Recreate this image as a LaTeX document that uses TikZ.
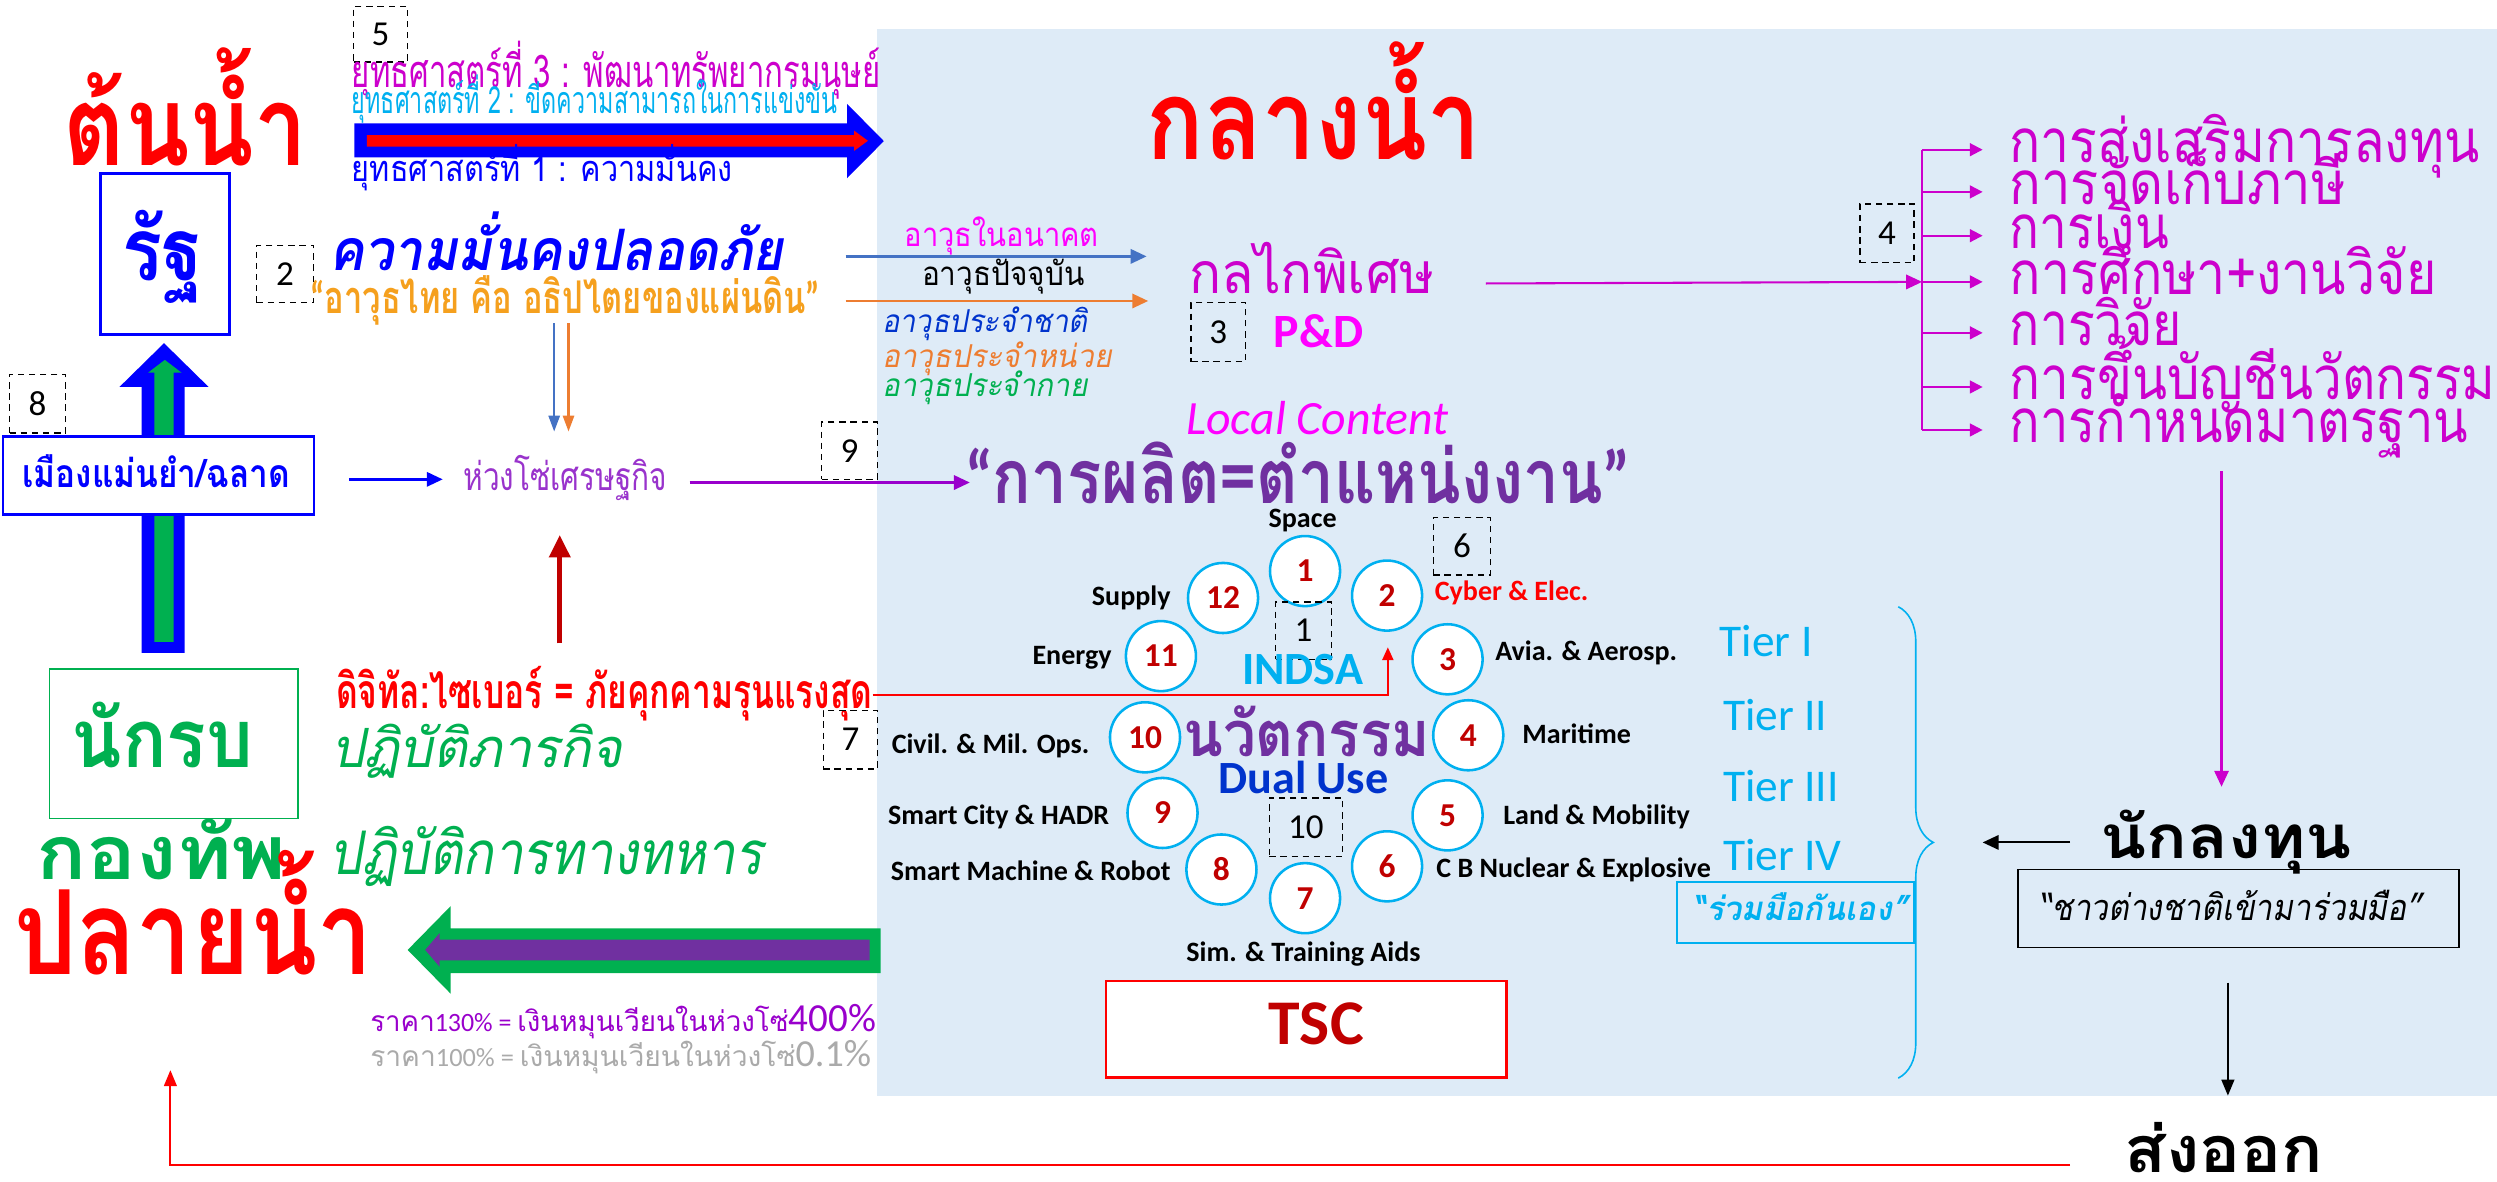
\documentclass[tikz,border=0pt]{standalone}
\usepackage{fontspec}
\usepackage{graphicx}
\usetikzlibrary{arrows.meta,decorations.pathreplacing}
\newfontfamily\thr[Script=Thai]{Loma}
\newfontfamily\thi[Script=Thai,FakeSlant=0.2]{Loma}
\newfontfamily\cl{Carlito}
\newcommand\thratio{0.53}
\newcommand\fs[1]{\fontsize{#1}{#1}\selectfont}
\newcommand\bh[1]{\fontsize{\fpeval{#1/\thratio}}{\fpeval{#1/\thratio}}\selectfont}
\newcommand\fw[2]{\resizebox{#1pt}{\height}{#2}}
\definecolor{bgc}{RGB}{222,235,247}
\definecolor{mag}{RGB}{204,0,204}
\definecolor{pinkx}{RGB}{255,0,255}
\definecolor{cyanx}{RGB}{0,176,240}
\definecolor{greenx}{RGB}{0,176,80}
\definecolor{purplex}{RGB}{112,48,160}
\definecolor{violetx}{RGB}{153,0,204}
\definecolor{violetT}{RGB}{153,51,204}
\definecolor{darkredx}{RGB}{192,0,0}
\definecolor{orangeL}{RGB}{237,125,49}
\definecolor{orangeT}{RGB}{245,160,30}
\definecolor{blueL}{RGB}{68,114,196}
\definecolor{blueT}{RGB}{0,51,204}
\definecolor{grayx}{RGB}{170,170,170}
\begin{document}
\begin{tikzpicture}[x=1pt,y=-1pt,
  tx/.style={inner sep=0pt,outer sep=0pt,anchor=base west},
  dbox/.style={draw=black,dash pattern=on 4pt off 3pt,line width=0.9pt,inner sep=0pt,font=\cl\fs{22}},
  circ/.style={circle,draw=cyanx,line width=1.6pt,fill=white,minimum size=44pt,inner sep=0pt,font=\cl\bfseries\fs{21},text=darkredx},
  lab/.style={inner sep=0pt,outer sep=0pt,font=\cl\bfseries\fs{17.6}},
  tier/.style={inner sep=0pt,outer sep=0pt,anchor=base west,font=\cl\fs{28.5},text=cyanx},
  arr/.style={-{Triangle[length=10pt,width=9pt]}},
  sarr/.style={-{Triangle[length=8pt,width=7pt]}}
]
\useasboundingbox (0,0) rectangle (1568,742);
\fill[white] (0,0) rectangle (1568,742);
\fill[bgc] (551,18) rectangle (1568,688);

% ---------- top left ----------
\node[tx,text=red] (tonnam) at (40,104) {\thr\bfseries\bh{37}\fw{153}{ต้นน้ำ}};
\node[draw=blue,line width=1.5pt,fill=white,minimum width=81pt,minimum height=101pt,inner sep=0pt] (ratbox) at (103.5,159.5) {};
\node[tx,text=blue] (rat) at (77,176) {\thr\bfseries\bh{29}\fw{51}{รัฐ}};

\node[dbox,minimum width=34pt,minimum height=35pt] (b5) at (239,21.5) {5};
\node[tx,text=mag] (s3) at (221,55) {\thr\bh{15}\fw{332}{ยุทธศาสตร์ที่ 3 : พัฒนาทรัพยากรมนุษย์}};
\node[tx,text=cyanx] (s2) at (221,71) {\thr\bh{12.5}\fw{305}{ยุทธศาสตร์ที่ 2 : ขีดความสามารถในการแข่งขัน}};
\fill[blue] (222.5,77.4) -- (532,77.4) -- (532,65.3) -- (555,88.6) -- (532,111.8) -- (532,98.8) -- (222.5,98.8) -- cycle;
\fill[red] (230.3,84.8) -- (536.3,84.8) -- (536.3,82) -- (545,88.4) -- (536.3,94.8) -- (536.3,92.1) -- (230.3,92.1) -- cycle;
\node[tx,text=blue] (s1) at (221,114) {\thr\bh{12}\fw{239}{ยุทธศาสตร์ที่ 1 : ความมั่นคง}};

\node[tx,text=red] (klang) at (720,100) {\thr\bfseries\bh{37}\fw{210}{กลางน้ำ}};

\node[dbox,minimum width=36pt,minimum height=36pt] (b2) at (179,172) {2};
\node[tx,text=blue] (secure) at (207,170) {\thi\bfseries\bh{19}\fw{285}{ความมั่นคงปลอดภัย}};
\node[tx,text=orangeT] (thaiw) at (195,197) {\thr\bfseries\bh{15}\fw{320}{{\cl “}อาวุธไทย คือ อธิปไตยของแผ่นดิน{\cl ”}}};

% weapons arrows
\coordinate (wb0) at (531,161); \coordinate (wb1) at (720,161);
\coordinate (wo0) at (531,189); \coordinate (wo1) at (721,189);
\draw[blueL,line width=1.5pt,arr] (wb0) -- (wb1);
\draw[orangeL,line width=1.5pt,arr] (wo0) -- (wo1);
\coordinate (vb0) at (348,203); \coordinate (vb1) at (348,271);
\coordinate (vo0) at (357,203); \coordinate (vo1) at (357,271);
\draw[blueL,line width=1.5pt,-{Triangle[length=10pt,width=7pt]}] (vb0) -- (vb1);
\draw[orangeL,line width=1.5pt,-{Triangle[length=10pt,width=7pt]}] (vo0) -- (vo1);

\node[tx,text=pinkx] (wfut) at (568,155) {\thr\bh{11}\fw{122}{อาวุธในอนาคต}};
\node[tx,text=black] (wnow) at (579,179) {\thr\bh{11}\fw{102}{อาวุธปัจจุบัน}};
\node[tx,text=blueT] (wnat) at (554,209) {\thi\bh{10.5}\fw{129}{อาวุธประจำชาติ}};
\node[tx,text=orangeL] (wunit) at (554,231) {\thi\bh{10.5}\fw{144}{อาวุธประจำหน่วย}};
\node[tx,text=greenx] (wbody) at (554,249) {\thi\bh{10.5}\fw{129}{อาวุธประจำกาย}};

\node[tx,text=mag] (kalkai) at (747,184) {\thr\bh{19}\fw{154}{กลไกพิเศษ}};
\node[dbox,minimum width=34pt,minimum height=37pt] (b3) at (765,208.5) {3};
\node[tx,text=pinkx,font=\cl\bfseries\fs{30}] (pd) at (800,218) {P\&D};

% right list
\coordinate (kk0) at (933,178);
\coordinate (bartop) at (1207,94); \coordinate (barbot) at (1207,270);
\draw[mag,line width=1pt] (bartop) -- (barbot);
\draw[mag,line width=1.3pt,arr] (kk0) -- (1207,177);
\foreach \yy/\nm/\ww/\tt in {94/r1/295/การส่งเสริมการลงทุน,120.5/r2/211/การจัดเก็บภาษี,148/r3/100/การเงิน,177/r4/268/การศึกษา+งานวิจัย,209/r5/108/การวิจัย,243/r6/305/การขึ้นบัญชีนวัตกรรม,270/r7/288/การกำหนดมาตรฐาน}{
  \coordinate (\nm a) at (1207,\yy);
  \coordinate (\nm b) at (1245,\yy);
  \draw[mag,line width=1.3pt,-{Triangle[length=8pt,width=8pt]}] (\nm a) -- (\nm b);
  \node[tx,text=mag] (\nm) at (1262,\yy+8) {\thr\bh{20}\fw{\ww}{\tt}};
}
\node[dbox,minimum width=34pt,minimum height=37pt] (b4) at (1185,146.5) {4};
\coordinate (md0) at (1395,296); \coordinate (md1) at (1395,494);
\draw[mag,line width=1.3pt,arr] (md0) -- (md1);

\node[tx,text=pinkx,font=\cl\itshape\fs{30}] (local) at (745,273) {Local Content};

% ---------- left middle ----------
\node[dbox,minimum width=35pt,minimum height=37pt] (b8) at (23.5,253.5) {8};
\fill[blue] (89,410) -- (89,243) -- (75,243) -- (103,215.5) -- (131,243) -- (116,243) -- (116,410) -- cycle;
\fill[greenx] (97,403) -- (97,234) -- (93,234) -- (103.5,226) -- (114,234) -- (109,234) -- (109,403) -- cycle;
\node[draw=blue,line width=1.5pt,fill=white,minimum width=195pt,minimum height=49pt,inner sep=0pt] (muangbox) at (99.5,298.5) {};
\node[tx,text=blue] (muang) at (14,306) {\thr\bfseries\bh{13}\fw{168}{เมืองแม่นยำ/ฉลาด}};
\coordinate (mb0) at (219,301); \coordinate (mb1) at (278,301);
\draw[blue,line width=1.5pt,arr] (mb0) -- (mb1);
\node[tx,text=violetT] (huang) at (291,308) {\thr\bh{13}\fw{128}{ห่วงโซ่เศรษฐกิจ}};
\coordinate (hp0) at (433,303); \coordinate (hp1) at (609,303);
\draw[violetx,line width=1.5pt,arr] (hp0) -- (hp1);
\node[dbox,minimum width=35pt,minimum height=36pt] (b9) at (533.5,283) {9};
\node[tx,text=purplex] (prod) at (606,316) {\thr\bfseries\bh{25}\fw{418}{{\cl “}การผลิต=ตำแหน่งงาน{\cl ”}}};

\coordinate (dr0) at (351.5,404); \coordinate (dr1) at (351.5,336);
\draw[darkredx,line width=3pt,-{Triangle[length=14pt,width=13pt]}] (dr0) -- (dr1);

\node[tx,text=red] (digi) at (211,445) {\thr\bfseries\bh{16}\fw{337}{ดิจิทัล:ไซเบอร์ = ภัยคุกคามรุนแรงสุด}};
\coordinate (rl0) at (548,436.5); \coordinate (rl1) at (871.5,436.5); \coordinate (rl2) at (871.5,406.5);
\draw[red,line width=1pt,sarr] (rl0) -- (rl1) -- (rl2);

% ---------- bottom left ----------
\node[draw=greenx,line width=1pt,minimum width=156pt,minimum height=94pt,inner sep=0pt] (nakbox) at (109,467) {};
\node[tx,text=greenx] (nak) at (45,482) {\thr\bfseries\bh{27}\fw{114}{นักรบ}};
\node[tx,text=greenx] (mission) at (208,482) {\thi\bh{18}\fw{183}{ปฏิบัติภารกิจ}};
\node[tx,text=greenx] (army) at (23,552) {\thr\bfseries\bh{25}\fw{157}{กองทัพ}};
\node[tx,text=greenx] (milop) at (207,549) {\thi\bh{20}\fw{272}{ปฏิบัติการทางทหาร}};
\node[tx,text=red] (plai) at (9,612) {\thr\bfseries\bh{39}\fw{225}{ปลายน้ำ}};

\fill[greenx] (553,583) -- (283,583) -- (283,569) -- (256,596.5) -- (283,624) -- (283,611) -- (553,611) -- cycle;
\fill[purplex] (546,590) -- (276,590) -- (276,586) -- (267,596.5) -- (276,607) -- (276,603) -- (546,603) -- cycle;

\node[tx,text=violetx] (price1) at (232.5,648) {\fw{317.5}{\thr\bh{9.4}ราคา{\cl\fs{16.6}130\% = }เงินหมุนเวียนในห่วงโซ่{\cl\fs{25}400\%}}};
\node[tx,text=grayx] (price2) at (232.5,669.4) {\fw{314.5}{\thr\bh{9.4}ราคา{\cl\fs{16.6}100\% = }เงินหมุนเวียนในห่วงโซ่{\cl\fs{24}0.1\%}}};

\coordinate (ex0) at (1300,731.5); \coordinate (ex1) at (107,731.5); \coordinate (ex2) at (107,672);
\draw[red,line width=1.2pt,-{Triangle[length=10pt,width=8pt]}] (ex0) -- (ex1) -- (ex2);

% ---------- circle cluster ----------
\node[lab,anchor=base] (lspace) at (818,331) {Space};
\node[circ] (c1) at (819.5,358.6) {1};
\node[circ] (c2) at (871,374) {2};
\node[circ] (c3) at (909,414) {3};
\node[circ] (c4) at (922,461.7) {4};
\node[circ] (c5) at (909,512) {5};
\node[circ] (c6) at (871,544) {6};
\node[circ] (c7) at (819.5,564) {7};
\node[circ] (c8) at (767,546) {8};
\node[circ] (c9) at (730,510.5) {9};
\node[circ] (c10) at (719,463) {10};
\node[circ] (c11) at (729,412) {11};
\node[circ] (c12) at (768,375.5) {12};
\node[lab,anchor=base east] (lsup) at (735,380) {Supply};
\node[lab,anchor=base west,text=red] (lcyb) at (901,377) {Cyber \& Elec.};
\node[lab,anchor=base east] (lene) at (698,417) {Energy};
\node[lab,anchor=base west] (lavi) at (939,415) {Avia. \& Aerosp.};
\node[lab,anchor=base east] (lciv) at (684,473) {Civil. \& Mil. Ops.};
\node[lab,anchor=base west] (lmar) at (956,467) {Maritime};
\node[lab,anchor=base east] (lsmc) at (696.5,518) {Smart City \& HADR};
\node[lab,anchor=base west] (llan) at (944,518) {Land \& Mobility};
\node[lab,anchor=base east] (lsmm) at (735,553) {Smart Machine \& Robot};
\node[lab,anchor=base west] (lcbn) at (902,551) {C B Nuclear \& Explosive};
\node[lab,anchor=base] (lsim) at (818.5,604) {Sim. \& Training Aids};

\node[dbox,minimum width=36pt,minimum height=36pt] (b6) at (918,343) {6};
\node[dbox,minimum width=35pt,minimum height=36pt] (b1) at (818.5,396) {1};
\node[dbox,minimum width=46pt,minimum height=37pt] (b10) at (820,519.5) {10};
\node[dbox,minimum width=34pt,minimum height=37pt] (b7) at (534,464.5) {7};

\node[inner sep=0pt,anchor=base,font=\cl\bfseries\fs{29},text=cyanx] (indsa) at (818,430) {INDSA};
\node[tx,text=purplex] (inno) at (743,475) {\thr\bfseries\bh{21}\fw{155}{นวัตกรรม}};
\node[inner sep=0pt,anchor=base,font=\cl\bfseries\fs{29},text=blueT] (dual) at (818.5,498) {Dual Use};

\node[draw=red,line width=1.5pt,fill=white,minimum width=251.5pt,minimum height=60.7pt,inner sep=0pt] (tscbox) at (820.25,646.35) {};
\node[inner sep=0pt,anchor=base,font=\cl\bfseries\fs{40},text=darkredx] (tsc) at (826.5,656) {TSC};

% ---------- tiers / investors ----------
\node[tier] (t1) at (1080,412.5) {Tier I};
\node[tier] (t2) at (1082,458.5) {Tier II};
\node[tier] (t3) at (1082,503.5) {Tier III};
\node[tier] (t4) at (1082,546.5) {Tier IV};
\coordinate (brT) at (1192,381); \coordinate (brB) at (1192,677);
\draw[cyanx,line width=1pt,decorate,decoration={brace,amplitude=22pt}] (brT) -- (brB);
\node[draw=cyanx,line width=1.5pt,minimum width=149pt,minimum height=38pt,inner sep=0pt] (coopbox) at (1127.5,573) {};
\node[tx,text=cyanx] (coop) at (1063,578) {\thi\bfseries\bh{11}\fw{135}{“ร่วมมือกันเอง”}};

\coordinate (ia0) at (1300,529); \coordinate (ia1) at (1245,529);
\draw[black,line width=1.3pt,arr] (ia0) -- (ia1);
\node[tx,text=black] (invest) at (1319,539) {\thr\bfseries\bh{20}\fw{158}{นักลงทุน}};
\node[draw=black,line width=1.2pt,minimum width=277pt,minimum height=49pt,inner sep=0pt] (forbox) at (1405.5,570.5) {};
\node[tx,text=black] (foreign) at (1280,578) {\thi\bh{12}\fw{241}{“ชาวต่างชาติเข้ามาร่วมมือ”}};
\coordinate (ea0) at (1399,617); \coordinate (ea1) at (1399,688);
\draw[black,line width=1.2pt,-{Triangle[length=10pt,width=8pt]}] (ea0) -- (ea1);
\node[tx,text=black] (export) at (1334,736) {\thr\bfseries\bh{21.5}\fw{125}{ส่งออก}};
\end{tikzpicture}
\end{document}
